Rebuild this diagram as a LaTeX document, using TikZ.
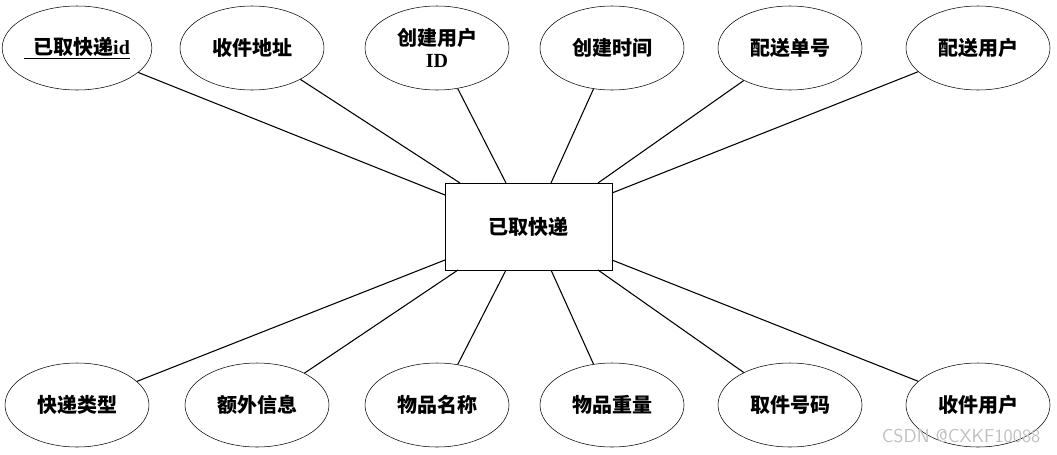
\documentclass[tikz,border=0pt]{standalone}
\usepackage{fontspec}
\setmainfont{Liberation Serif}
\newfontfamily\cjk{Noto Sans CJK SC}
\newcommand{\lat}[1]{{\rmfamily\bfseries #1}}
\usetikzlibrary{shapes.geometric}
\begin{document}
\begin{tikzpicture}[x=0.75pt,y=-0.75pt,
 attr/.style={draw,ellipse,minimum width=144*0.75pt,minimum height=84*0.75pt,inner sep=0pt,font=\cjk\bfseries\fontsize{15}{17}\selectfont,align=center},
 ent/.style={draw,rectangle,minimum width=167*0.75pt,minimum height=87*0.75pt,font=\cjk\bfseries\fontsize{15}{17}\selectfont},
 lk/.style={draw,line width=0.8pt}]
\useasboundingbox (0,0) rectangle (1057,454);
\node[ent] (r) at (528.5,226.5) {已取快递};
\node[attr] (a1) at (77,48) {\underline{\ \ 已取快递\lat{id}}};
\node[attr] (a2) at (252,48) {收件地址};
\node[attr] (a3) at (437,48) {创建用户\\\lat{ID}};
\node[attr] (a4) at (612,48) {创建时间};
\node[attr] (a5) at (790,48) {配送单号};
\node[attr] (a6) at (978,48) {配送用户};
\node[attr] (b1) at (77,405) {快递类型};
\node[attr] (b2) at (257,405) {额外信息};
\node[attr] (b3) at (437,405) {物品名称};
\node[attr] (b4) at (612,405) {物品重量};
\node[attr] (b5) at (790,405) {取件号码};
\node[attr] (b6) at (978,405) {收件用户};
\coordinate (t1) at (445,195);
\coordinate (t2) at (460,183);
\coordinate (t3) at (506,183);
\coordinate (t4) at (551,183);
\coordinate (t5) at (598,183);
\coordinate (t6) at (612,193);
\coordinate (u1) at (445,260);
\coordinate (u2) at (458,270);
\coordinate (u3) at (506,270);
\coordinate (u4) at (551,270);
\coordinate (u5) at (598,270);
\coordinate (u6) at (612,260);
\foreach \e/\p in {a1/t1,a2/t2,a3/t3,a4/t4,a5/t5,a6/t6,b1/u1,b2/u2,b3/u3,b4/u4,b5/u5,b6/u6}
  \draw[lk] (\e) -- (\p);
\node[font=\fontsize{14}{16}\selectfont\sffamily,text=black!25,anchor=east] (wm) at (1045,436) {CSDN @CXKF10088};
\end{tikzpicture}
\end{document}
